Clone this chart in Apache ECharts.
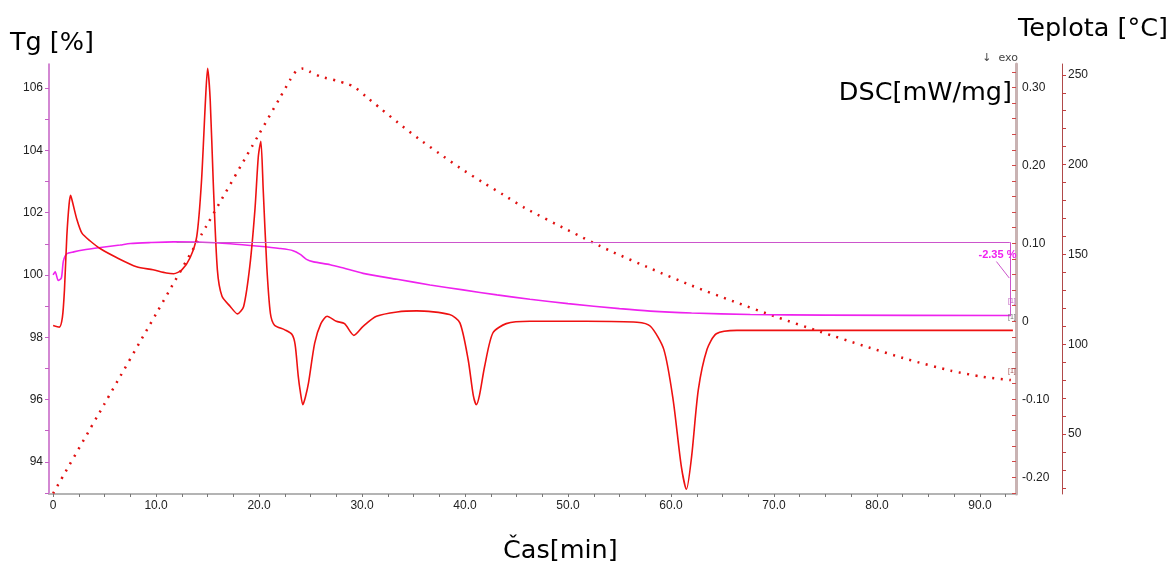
<!DOCTYPE html>
<html>
<head>
<meta charset="utf-8">
<script src="https://cdn.jsdelivr.net/npm/echarts@6/dist/echarts.min.js"></script>
<style>
  html, body { margin: 0; padding: 0; background: #fff; }
  #chart { width: 1171px; height: 563px; }
</style>
</head>
<body>
<div id="chart"></div>
<script>
// Time axis [min]
const timeLabels = [0, 10, 20, 30, 40, 50, 60, 70, 80, 90];

// DSC signal [mW/mg]
const dscTime = [0, 0.6, 0.9, 1.1, 1.33, 1.55, 1.7, 1.9, 2.3, 2.8, 3.6, 4.6, 6.2, 8.1, 9.7, 11.0, 11.7, 12.5, 13.3, 13.95,
  14.4, 14.8, 15.0, 15.25, 15.55, 15.95, 16.4, 17.2, 17.9, 18.5, 19.1, 19.6, 19.93, 20.17, 20.4, 20.75, 21.1, 21.5, 22.5, 23.2,
  23.5, 23.8, 24.0, 24.25, 24.5, 24.8, 25.4, 26.0, 26.6, 27.5, 28.3, 29.2, 30.1, 31.4, 33.4, 35.3, 38.5, 39.5, 40.3, 40.8,
  41.1, 41.4, 41.9, 42.7, 44.0, 46.3, 51.8, 56.7, 58.0, 59.3, 60.2, 61.0, 61.5, 62.0, 62.65, 63.5, 64.4, 66.4, 93.2];
const dscValue = [-0.0055, -0.0075, 0.005, 0.04, 0.109, 0.150, 0.1616, 0.152, 0.131, 0.113, 0.103, 0.093, 0.0815, 0.070, 0.066, 0.062, 0.061, 0.066, 0.0815, 0.109,
  0.178, 0.285, 0.3245, 0.285, 0.178, 0.066, 0.032, 0.019, 0.0095, 0.019, 0.0707, 0.1436, 0.212, 0.231, 0.169, 0.07, 0.01, -0.005, -0.011, -0.017,
  -0.03, -0.07, -0.09, -0.107, -0.097, -0.079, -0.028, -0.003, 0.0064, 0.0, -0.003, -0.018, -0.0064, 0.0064, 0.012, 0.0134, 0.0086, -0.002, -0.049, -0.095,
  -0.107, -0.095, -0.058, -0.015, -0.003, 0.0, 0.0, -0.0013, -0.0064, -0.036, -0.10, -0.186, -0.2154, -0.1735, -0.088, -0.036, -0.016, -0.0116, -0.0116];

// TG signal [%]
const tgTime = [0, 0.2, 0.5, 0.8, 1.0, 1.33, 2.0, 2.9, 4.6, 6.5, 7.5, 9.5, 11.7, 14.5, 17.2, 20.0, 22.0, 23.3, 24.0, 24.6,
  25.3, 26.9, 28.2, 30.1, 33.4, 36.6, 39.8, 43.1, 46.3, 50, 55, 58, 62, 67.7, 75, 93];
const tgValue = [100.0, 100.1, 99.82, 99.9, 100.45, 100.68, 100.74, 100.8, 100.88, 100.96, 101.01, 101.04, 101.06, 101.05, 101.0, 100.92, 100.85, 100.78, 100.66, 100.5,
  100.42, 100.33, 100.22, 100.05, 99.86, 99.68, 99.52, 99.36, 99.22, 99.08, 98.92, 98.84, 98.78, 98.73, 98.71, 98.70];

// Mass-change step evaluation
const stepLevels = [101.05, 98.70];
const stepRange = [12, 92.9];

// Temperature programme [°C]
const tempTime = [0, 5, 10, 15, 20, 22, 23, 23.6, 24.3, 25, 26, 27.5, 28.5, 29.2, 30.4, 31.7, 33.5, 35.5, 37.5, 39.5,
  41.7, 43.7, 45.8, 50, 54.1, 58.1, 62, 66.1, 70.3, 74.5, 78.7, 83, 87.2, 90.3, 93];
const tempValue = [17, 67, 117, 167, 217, 237, 247, 252, 253.5, 251.5, 249, 246.8, 245, 243.4, 237.8, 231.7, 223.3, 214.4, 206.2, 198.2,
  190.2, 183.3, 175.9, 163.5, 152, 142, 132.7, 123.8, 115.1, 107, 99.2, 91.6, 85.3, 81.9, 80.1];

// Axis tick labels
const tgLabels = [94, 96, 98, 100, 102, 104, 106];
const dscLabels = [-0.2, -0.1, 0, 0.1, 0.2, 0.3];
const tempLabels = [50, 100, 150, 200, 250];

const zip = (a, b) => a.map((x, i) => [x, b[i]]);
const steps = (from, to, step) => {
  const out = [];
  for (let v = from; v <= to + 1e-9; v += step) out.push(Math.round(v * 1000) / 1000);
  return out;
};

const labelFont = { color: '#222', fontSize: 12, fontFamily: 'Liberation Sans, Arial, sans-serif' };
const titleFont = { fontSize: 25.5, fontFamily: 'DejaVu Sans, sans-serif', fill: '#000' };

const stepDelta = (stepLevels[1] - stepLevels[0]).toFixed(2) + ' %';

const chart = echarts.init(document.getElementById('chart'));
chart.setOption({
  animation: false,
  backgroundColor: '#fff',
  grid: { left: 49, right: 155, top: 64, bottom: 69, containLabel: false },
  xAxis: {
    type: 'value', min: -0.4, max: 93.5,
    axisLine: { onZero: false, lineStyle: { color: '#b4b4b4', width: 2 } },
    axisTick: { customValues: steps(0, 92.5, 2.5), length: 3, lineStyle: { color: '#777' } },
    axisLabel: Object.assign({ customValues: timeLabels, margin: 6,
      formatter: v => v === 0 ? '0' : v.toFixed(1) }, labelFont),
    splitLine: { show: false }
  },
  yAxis: [
    {
      type: 'value', position: 'left', min: 92.97, max: 106.77,
      axisLine: { show: true, onZero: false, lineStyle: { color: '#c460c4', width: 1.5 } },
      axisTick: { show: true, customValues: steps(93, 106, 1), length: 4, lineStyle: { color: '#c460c4' } },
      axisLabel: Object.assign({ customValues: tgLabels, margin: 6 }, labelFont),
      splitLine: { show: false }
    },
    {
      type: 'value', position: 'right', offset: 0, min: -0.2215, max: 0.33,
      axisLine: { show: true, onZero: false, lineStyle: { color: '#c9b3b3', width: 3 } },
      axisTick: { show: true, inside: true, customValues: steps(-0.22, 0.32, 0.02), length: 4, lineStyle: { color: '#d04848' } },
      axisLabel: Object.assign({ customValues: dscLabels, margin: 6,
        formatter: v => Math.abs(v) < 1e-9 ? '0' : v.toFixed(2) }, labelFont),
      splitLine: { show: false }
    },
    {
      type: 'value', position: 'right', offset: 46, min: 16.7, max: 256,
      axisLine: { show: true, onZero: false, lineStyle: { color: '#b04a4a', width: 1 } },
      axisTick: { show: true, customValues: steps(20, 250, 10), length: 4, lineStyle: { color: '#c04040' } },
      axisLabel: Object.assign({ customValues: tempLabels, margin: 6 }, labelFont),
      splitLine: { show: false }
    }
  ],
  series: [
    {
      name: 'Teplota', type: 'line', yAxisIndex: 2, data: zip(tempTime, tempValue),
      showSymbol: false, smooth: 0.25, z: 2,
      lineStyle: { color: '#e01010', width: 2.5, type: [2, 6.5] },
      markPoint: {
        silent: true, symbol: 'circle', symbolSize: 0,
        data: [{ coord: [93.1, 85] }],
        label: { show: true, formatter: '[1]', color: '#a05050', fontSize: 7, position: 'inside' }
      }
    },
    {
      name: 'TG', type: 'line', yAxisIndex: 0, data: zip(tgTime, tgValue),
      showSymbol: false, smooth: 0.25, z: 3,
      lineStyle: { color: '#ee22ee', width: 1.6 },
      markLine: {
        silent: true, symbol: 'none', label: { show: false },
        lineStyle: { color: '#cc55cc', width: 1, type: 'solid' },
        data: [
          [{ coord: [stepRange[0], stepLevels[0]] }, { coord: [stepRange[1], stepLevels[0]] }],
          [{ coord: [stepRange[1], stepLevels[0]] }, { coord: [stepRange[1], stepLevels[1]] }],
          [{ coord: [91.6, 100.43] }, { coord: [92.85, 99.9] }]
        ]
      },
      markPoint: {
        silent: true, symbol: 'circle', symbolSize: 0,
        data: [
          { coord: [91.7, 100.64], label: { formatter: stepDelta, color: '#f020f0', fontSize: 11, fontWeight: 'bold' } },
          { coord: [93.1, 99.15], label: { formatter: '[1]', color: '#c060c0', fontSize: 7 } },
          { coord: [93.1, 98.64], label: { formatter: '[1]', color: '#707070', fontSize: 7 } }
        ],
        label: { show: true, position: 'inside', fontFamily: 'Liberation Sans, Arial, sans-serif' }
      }
    },
    {
      name: 'DSC', type: 'line', yAxisIndex: 1, data: zip(dscTime, dscValue),
      showSymbol: false, smooth: 0.25, z: 4,
      lineStyle: { color: '#ee1111', width: 1.6 }
    }
  ],
  graphic: [
    { type: 'text', left: 10, top: 30, style: Object.assign({ text: 'Tg [%]' }, titleFont) },
    { type: 'text', left: 1018, top: 16, style: Object.assign({ text: 'Teplota [°C]' }, titleFont) },
    { type: 'text', right: 159, top: 80, style: Object.assign({ text: 'DSC[mW/mg]' }, titleFont) },
    { type: 'text', left: 503, top: 538, style: Object.assign({ text: 'Čas[min]' }, titleFont) },
    { type: 'text', right: 153, top: 53, style: { text: '↓  exo', fontSize: 11, fontFamily: 'DejaVu Sans, sans-serif', fill: '#444' } }
  ]
});
</script>
</body>
</html>
